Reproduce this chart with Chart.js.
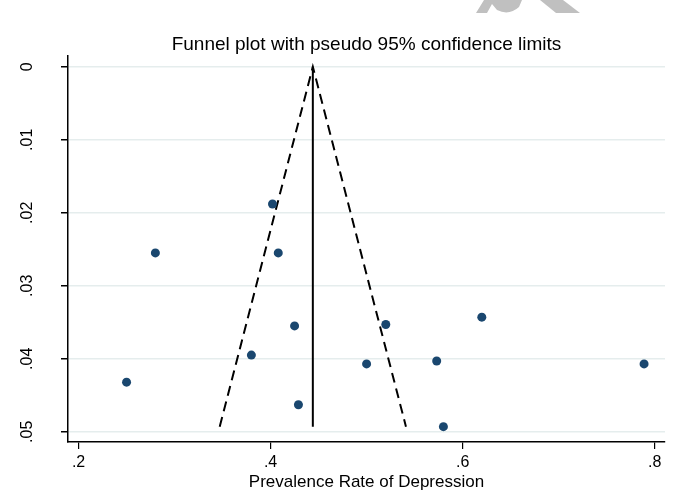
<!DOCTYPE html>
<html>
<head>
<meta charset="utf-8">
<title>Funnel plot</title>
<script src="https://cdn.jsdelivr.net/npm/chart.js@4.4.1/dist/chart.umd.min.js"></script>
<style>
  html, body { margin: 0; padding: 0; background: #fff; }
  #wrap { width: 679px; height: 504px; }
</style>
</head>
<body>
<div id="wrap"><canvas id="funnel-chart" width="679" height="504"></canvas></div>
<script>
// ─── Data ────────────────────────────────────────
// one point per study: prevalence and its standard error
const prevalence = [0.402, 0.280, 0.408, 0.425, 0.520, 0.380, 0.500, 0.573, 0.250, 0.429, 0.580, 0.620, 0.789];
const stdError   = [0.0188, 0.0255, 0.0255, 0.0355, 0.0353, 0.0395, 0.0407, 0.0403, 0.0432, 0.0463, 0.0493, 0.0343, 0.0407];

// pooled estimate line and pseudo 95% limits
const centerX = [0.444, 0.444];
const centerSe = [0, 0.0493];
const limitX = [0.347, 0.444, 0.541];
const limitSe = [0.0493, 0, 0.0493];

const xTicks = [0.2, 0.4, 0.6, 0.8];
const yTicks = [0, 0.01, 0.02, 0.03, 0.04, 0.05];

const FONT = "'Liberation Sans', Arial, sans-serif";

// Stata style labels: drop the leading zero
function stataLabel(v) {
  if (v === 0) return '0';
  return String(+v.toFixed(2)).replace(/^0/, '');
}

// ─── Centre the title over the plot region ───────
const titleOverPlot = {
  id: 'titleOverPlot',
  afterLayout(chart) {
    if (!chart.titleBlock) return;
    chart.titleBlock.left = chart.chartArea.left;
    chart.titleBlock.right = chart.chartArea.right;
  }
};

// ─── Grey mark cut off at the top edge ───────────
const topMark = {
  id: 'topMark',
  beforeDraw(chart) {
    const c = chart.ctx;
    c.save();
    c.fillStyle = '#c0c0c0';
    c.beginPath();
    c.moveTo(484, 0); c.lineTo(522, 0); c.lineTo(519, 7);
    c.quadraticCurveTo(509, 16, 497, 10);
    c.lineTo(492, 4); c.lineTo(487, 13); c.lineTo(476, 13);
    c.closePath();
    c.fill();
    c.beginPath();
    c.moveTo(540, 0); c.lineTo(563, 0); c.lineTo(580, 13); c.lineTo(556, 13);
    c.closePath();
    c.fill();
    c.restore();
  }
};

const points = prevalence.map((x, i) => ({ x, y: stdError[i] }));
const centerLine = centerX.map((x, i) => ({ x, y: centerSe[i] }));
const limitLine = limitX.map((x, i) => ({ x, y: limitSe[i] }));

new Chart(document.getElementById('funnel-chart'), {
  type: 'scatter',
  data: {
    datasets: [
      {
        label: 'Studies',
        data: points,
        backgroundColor: '#1a476f',
        borderColor: '#1a476f',
        borderWidth: 0,
        pointRadius: 4.5,
        order: 1,
      },
      {
        label: 'Pooled',
        data: centerLine,
        showLine: true,
        borderColor: '#000',
        borderWidth: 2,
        pointRadius: 0,
        order: 2,
      },
      {
        label: 'Pseudo 95% CI',
        data: limitLine,
        showLine: true,
        borderColor: '#000',
        borderWidth: 2,
        borderDash: [10, 6],
        pointRadius: 0,
        order: 3,
      },
    ],
  },
  options: {
    responsive: false,
    animation: false,
    layout: { padding: { top: 0, right: 14, bottom: 0, left: 0 } },
    plugins: {
      legend: { display: false },
      tooltip: { enabled: false },
      title: {
        display: true,
        text: 'Funnel plot with pseudo 95% confidence limits',
        color: '#000',
        font: { family: FONT, size: 19, weight: 'normal' },
        padding: { top: 33, bottom: 0 },
      },
    },
    scales: {
      x: {
        type: 'linear',
        position: 'bottom',
        min: 0.189,
        max: 0.8108,
        afterBuildTicks: s => { s.ticks = xTicks.map(v => ({ value: v })); },
        afterFit: s => { s.height = 62; },
        ticks: {
          color: '#000',
          font: { family: FONT, size: 16 },
          padding: 4,
          maxRotation: 0,
          autoSkip: false,
          callback: v => stataLabel(v),
        },
        grid: { drawOnChartArea: false, tickLength: 7, tickColor: '#000', lineWidth: 1.2 },
        border: { color: '#000', width: 1.5 },
        title: {
          display: true,
          text: 'Prevalence Rate of Depression',
          color: '#000',
          font: { family: FONT, size: 17 },
          padding: { top: 0, bottom: 11 },
        },
      },
      y: {
        type: 'linear',
        reverse: true,
        min: -0.0015,
        max: 0.0514,
        afterBuildTicks: s => { s.ticks = yTicks.map(v => ({ value: v })); },
        afterFit: s => { s.width = 68; },
        ticks: {
          color: '#000',
          font: { family: FONT, size: 16 },
          minRotation: 90,
          maxRotation: 90,
          crossAlign: 'center',
          padding: 22,
          autoSkip: false,
          callback: v => stataLabel(v),
        },
        grid: { color: '#e5eded', lineWidth: 1.5, tickLength: 7, tickColor: '#000' },
        border: { color: '#000', width: 1.5 },
      },
    },
  },
  plugins: [titleOverPlot, topMark],
});
</script>
</body>
</html>
